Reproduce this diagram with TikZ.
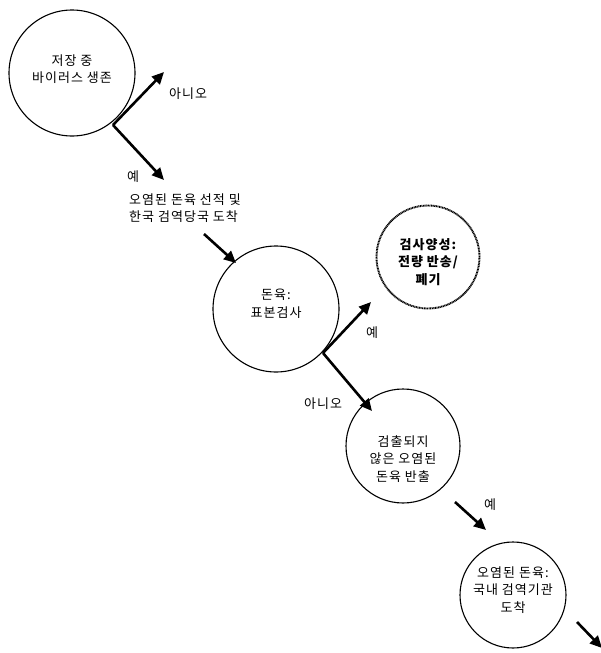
\documentclass[tikz,border=0pt]{standalone}
\usepackage{fontspec}
\setmainfont{Noto Sans CJK KR}[LetterSpace=8]
\usetikzlibrary{arrows.meta}
\begin{document}
\begin{tikzpicture}[x=1pt,y=-1pt,
  every node/.style={font=\fontsize{13}{17.5}\selectfont, align=center, inner sep=0pt},
  stage/.style={draw, circle, line width=1.1pt},
  posbox/.style={draw, circle, line width=1.9pt, dash pattern=on 1pt off 0.6pt},
  flow/.style={line width=2.6pt, -{Triangle[length=12pt,width=11pt]}},
  boldtext/.style={font=\fontsize{13}{17.5}\selectfont\bfseries}]
\useasboundingbox (0,0) rectangle (601,653);
\node[stage, minimum size=126pt] (c1) at (72,73) {};
\node (c1t) at (72,69) {저장 중\\바이러스 생존};
\node[stage, minimum size=126pt] (c2) at (276,309) {};
\node (c2t) at (276,304) {돈육:\\표본검사};
\node[posbox, minimum size=103pt] (c3) at (428,257) {};
\node[boldtext] (c3t) at (428,262) {검사양성:\\전량 반송/\\폐기};
\node[stage, minimum size=114pt] (c4) at (403,446) {};
\node (c4t) at (403,459) {검출되지\\않은 오염된\\돈육 반출};
\node[stage, minimum size=106pt] (c5) at (513,595) {};
\node (c5t) at (513,590) {오염된 돈육:\\국내 검역기관\\도착};
\coordinate (s1) at (113,125);
\coordinate (t1) at (164,72);
\coordinate (t2) at (164,180);
\coordinate (s3) at (204,234);
\coordinate (t3) at (236,263);
\coordinate (s4) at (323,353);
\coordinate (t4) at (371,302);
\coordinate (t5) at (372,411);
\coordinate (s6) at (455,502);
\coordinate (t6) at (486,530);
\coordinate (s7) at (577,622);
\coordinate (t7) at (602,648);
\draw[flow] (s1) -- (t1);
\draw[flow] (s1) -- (t2);
\draw[flow] (s3) -- (t3);
\draw[flow] (s4) -- (t4);
\draw[flow] (s4) -- (t5);
\draw[flow] (s6) -- (t6);
\draw[flow] (s7) -- (t7);
\node (l1) at (188,94) {아니오};
\node (l2) at (133,177) {예};
\node[align=left] (ship) at (185,208) {오염된 돈육 선적 및\\한국 검역당국 도착};
\node (l4) at (372,333) {예};
\node (l5) at (323,404) {아니오};
\node (l6) at (490,505) {예};
\end{tikzpicture}
\end{document}
